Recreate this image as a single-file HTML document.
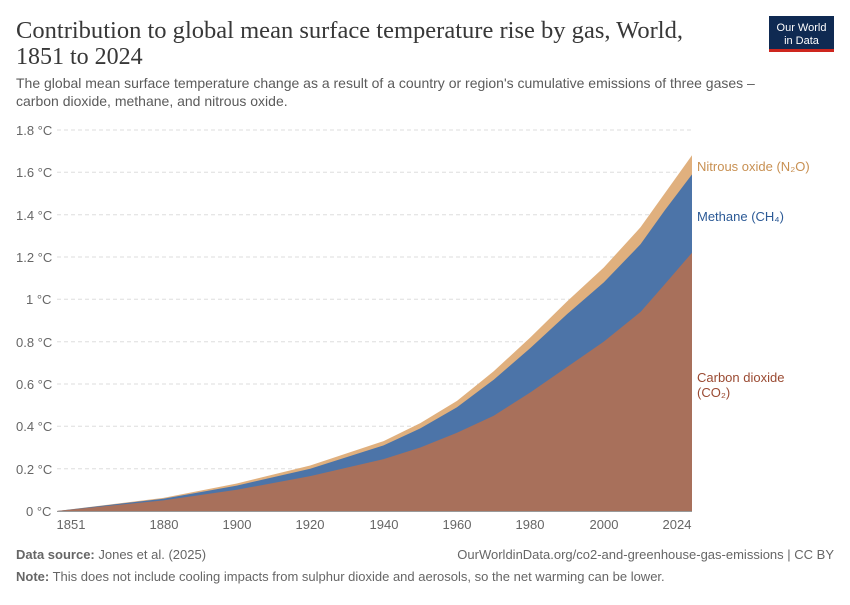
<!DOCTYPE html>
<html><head><meta charset="utf-8"><style>
body{margin:0;background:#fff;width:850px;height:600px;overflow:hidden;font-family:"Liberation Sans",sans-serif}
</style></head><body>
<svg width="850" height="600" xmlns="http://www.w3.org/2000/svg">
<text x="16" y="38" font-family="Liberation Serif,serif" font-size="24" fill="#383838" textLength="667" lengthAdjust="spacingAndGlyphs">Contribution to global mean surface temperature rise by gas, World,</text>
<text x="16" y="64" font-family="Liberation Serif,serif" font-size="24" fill="#383838">1851 to 2024</text>
<rect x="769" y="16" width="65" height="34" fill="#0f2a52"/>
<rect x="769" y="49" width="65" height="3" fill="#ce261e"/>
<text x="801.5" y="31" font-size="11" fill="#fff" text-anchor="middle">Our World</text>
<text x="801.5" y="44" font-size="11" fill="#fff" text-anchor="middle">in Data</text>
<text x="16" y="88" font-size="14" fill="#5b5b5b">The global mean surface temperature change as a result of a country or region's cumulative emissions of three gases –</text>
<text x="16" y="106" font-size="14" fill="#5b5b5b">carbon dioxide, methane, and nitrous oxide.</text>
<g stroke="#ddd" stroke-dasharray="4,3" stroke-width="1">
<line x1="57" x2="692" y1="130" y2="130"/><line x1="57" x2="692" y1="172.3" y2="172.3"/><line x1="57" x2="692" y1="214.7" y2="214.7"/><line x1="57" x2="692" y1="257" y2="257"/><line x1="57" x2="692" y1="299.3" y2="299.3"/><line x1="57" x2="692" y1="341.7" y2="341.7"/><line x1="57" x2="692" y1="384" y2="384"/><line x1="57" x2="692" y1="426.3" y2="426.3"/><line x1="57" x2="692" y1="468.7" y2="468.7"/>
</g>
<g font-size="13" fill="#666">
<text x="16" y="135">1.8 °C</text><text x="16" y="177">1.6 °C</text><text x="16" y="220">1.4 °C</text><text x="16" y="262">1.2 °C</text><text x="26" y="304">1 °C</text><text x="16" y="347">0.8 °C</text><text x="16" y="389">0.6 °C</text><text x="16" y="431">0.4 °C</text><text x="16" y="474">0.2 °C</text><text x="26" y="516">0 °C</text>
</g>
<polygon fill="#e0b07e" points="57,511 163.4,497.9 236.8,483.5 310.2,465.5 383.6,441.1 420.3,423.1 457,400.9 493.7,371.3 530.4,337.4 567.1,301.4 603.8,267.5 640.5,227.3 665,193 692,155.3 692,511"/>
<polygon fill="#4c74a8" points="57,511 163.4,498.7 236.8,485.6 310.2,468.7 383.6,445.4 420.3,428.4 457,407.3 493.7,379.7 530.4,348 567.1,314.1 603.8,282.4 640.5,244.3 665,210 692,174.4 692,511"/>
<polygon fill="#a8705b" points="57,511 163.4,500.4 236.8,489.8 310.2,476.1 383.6,459.1 420.3,447.5 457,432.7 493.7,415.7 530.4,392.4 567.1,367 603.8,341.6 640.5,312 665,284 692,252.7 692,511"/>
<line x1="57" x2="692" y1="511.5" y2="511.5" stroke="#999"/>
<g font-size="13" fill="#666" text-anchor="middle">
<text x="71" y="529">1851</text><text x="164" y="529">1880</text><text x="237" y="529">1900</text><text x="310" y="529">1920</text><text x="384" y="529">1940</text><text x="457" y="529">1960</text><text x="530" y="529">1980</text><text x="604" y="529">2000</text><text x="677" y="529">2024</text>
</g>
<text x="697" y="171" font-size="13" fill="#c89052">Nitrous oxide (N₂O)</text>
<text x="697" y="221" font-size="13" fill="#2c5a96">Methane (CH₄)</text>
<text x="697" y="382" font-size="13" fill="#9a4a32">Carbon dioxide</text>
<text x="697" y="397" font-size="13" fill="#9a4a32">(CO₂)</text>
<text x="16" y="559" font-size="13" fill="#666"><tspan font-weight="bold">Data source:</tspan> Jones et al. (2025)</text>
<text x="834" y="559" font-size="13" fill="#666" text-anchor="end">OurWorldinData.org/co2-and-greenhouse-gas-emissions | CC BY</text>
<text x="16" y="581" font-size="13" fill="#666"><tspan font-weight="bold">Note:</tspan> This does not include cooling impacts from sulphur dioxide and aerosols, so the net warming can be lower.</text>
</svg>
</body></html>
